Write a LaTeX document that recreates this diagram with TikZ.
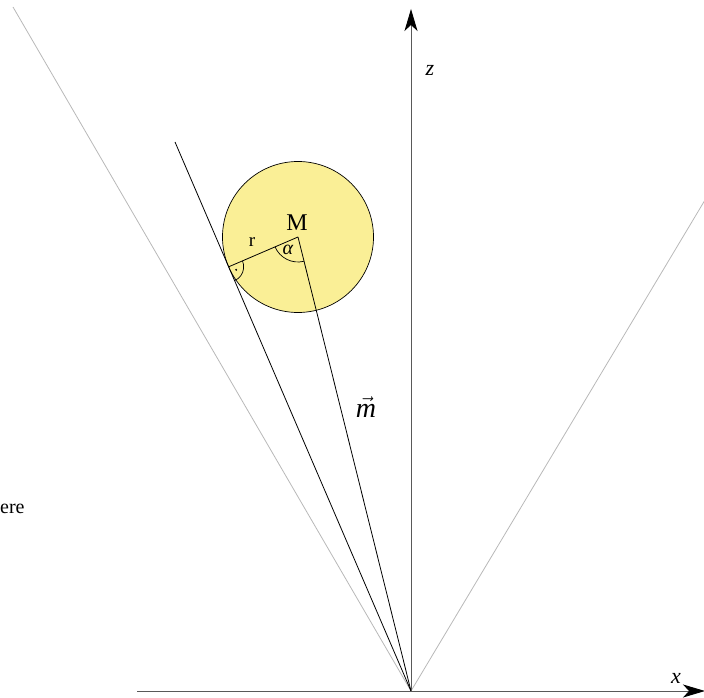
\documentclass[tikz,border=0pt]{standalone}
\usepackage{fontspec}
\setmainfont{Liberation Serif}
\usetikzlibrary{arrows.meta,angles,calc}
\begin{document}
\begin{tikzpicture}[x=1pt,y=1pt,
  axis/.style={draw=black!65,line width=0.9pt},
  conearrow/.style={-{Stealth[length=22pt,width=13pt,inset=6pt,color=black]}},
  grayline/.style={draw=black!28,line width=0.8pt},
  blackline/.style={draw=black,line width=0.8pt},
  lbl/.style={inner sep=0pt,font=\fontsize{22}{24}\selectfont}]
\useasboundingbox (0,0) rectangle (704,697);
% coordinates
\coordinate (O) at (411,6);
\coordinate (ztip) at (411,688);
\coordinate (xstart) at (137,6);
\coordinate (xtip) at (705,6);
\coordinate (gl) at (13,690);
\coordinate (gr) at (705,497);
\coordinate (tl) at (175,555);
\coordinate (C) at (298,460);
\coordinate (T) at (228.7,430.2);
% sphere
\fill[fill={rgb,255:red,250;green,239;blue,150}] (C) circle (75.5);
\draw[line width=0.7pt] (C) circle (75.5);
% cone lines
\draw[grayline] (gl) -- (O);
\draw[grayline] (O) -- (gr);
% tangent and m lines
\draw[blackline] (tl) -- (O);
\draw[blackline] (C) -- (O);
\draw[blackline] (C) -- (T);
% angle marks
\pic[draw,line width=0.7pt,angle radius=15pt] {angle=O--T--C};
\fill ($(T)+(-21.85:8)$) circle (1.1pt);
\pic[draw,line width=0.7pt,angle radius=25pt] {angle=T--C--O};
% axes
\draw[axis,conearrow] (O) -- (ztip);
\draw[axis,conearrow] (xstart) -- (xtip);
% labels
\node[lbl,anchor=base,font=\fontsize{24}{26}\selectfont] (Mlbl) at (297,466) {M};
\node[lbl,font=\fontsize{19}{21}\selectfont] (rlbl) at (252,455) {r};
\node[lbl,font=\fontsize{20}{22}\selectfont] (alpha) at (288,447) {\textit{α}};
\node[lbl] (zlbl) at (430,627) {\textit{z}};
\node[lbl] (xlbl) at (676,19) {\textit{x}};
\node[lbl,font=\fontsize{28}{30}\selectfont] (mlbl) at (366,290) {$\vec{\textit{m}}$};
\node[lbl,anchor=base west,font=\fontsize{20}{22}\selectfont] (ere) at (0,184) {ere};
\end{tikzpicture}
\end{document}
